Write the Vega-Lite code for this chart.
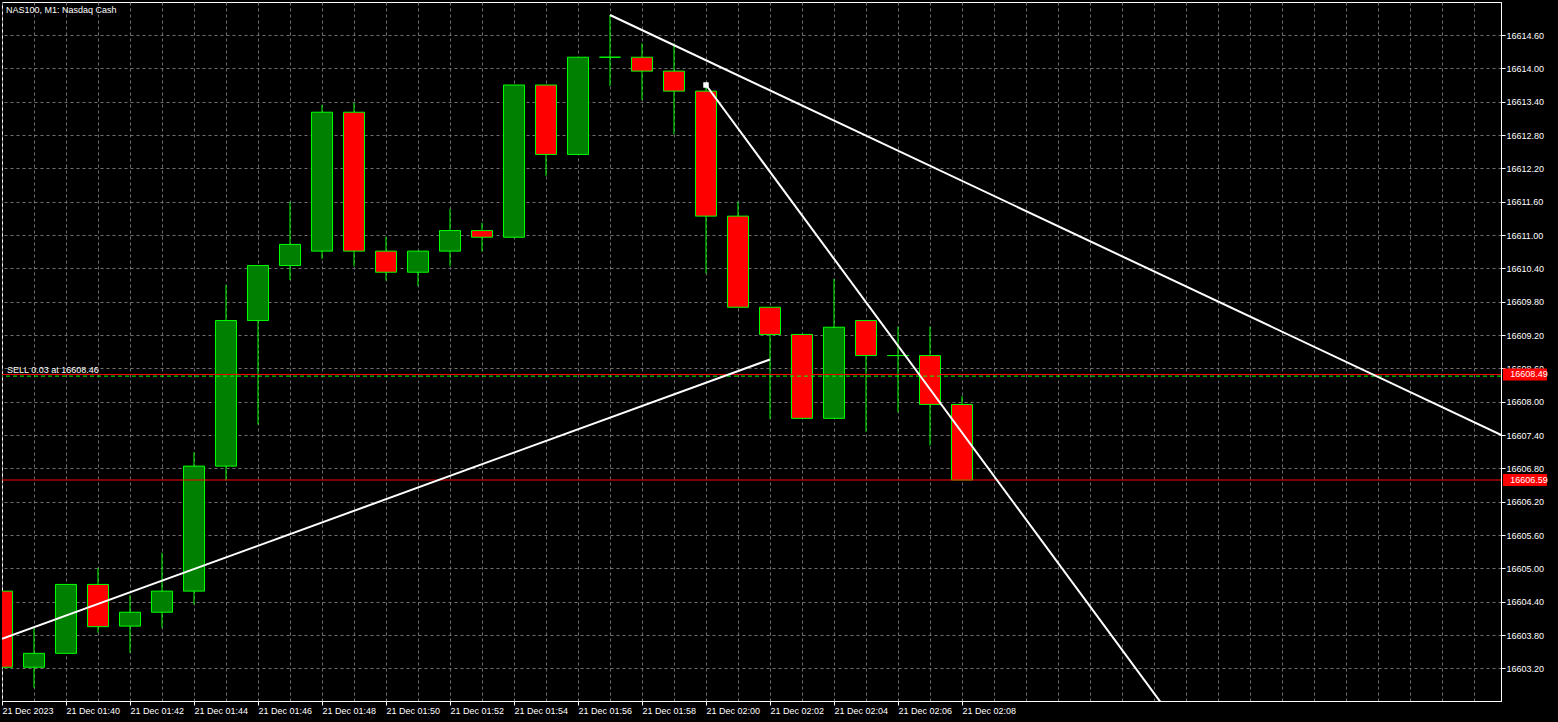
{
  "$schema": "https://vega.github.io/schema/vega-lite/v6.json",
  "width": 1499,
  "height": 699,
  "autosize": "none",
  "padding": {"left": 2, "top": 2, "right": 57, "bottom": 21},
  "background": "black",
  "config": {
    "view": {"stroke": "white", "strokeWidth": 1, "fill": "black"},
    "font": "Liberation Sans",
    "axis": {"labelFont": "Liberation Sans", "labelFontSize": 9, "labelColor": "white", "domainColor": "white", "tickColor": "white", "tickSize": 4, "gridColor": "#707070", "gridDash": [3, 3], "gridWidth": 1}
  },
  "title": {"text": "NAS100, M1:  Nasdaq Cash", "anchor": "start", "frame": "group", "orient": "top", "offset": -13, "dx": 4, "font": "Liberation Sans", "fontSize": 9, "fontWeight": "normal", "color": "white"},
  "datasets": {
    "candles": [
      {"t": "2023-12-21T01:38:00Z", "open": 16604.59, "high": 16604.59, "low": 16603.22, "close": 16603.22},
      {"t": "2023-12-21T01:39:00Z", "open": 16603.22, "high": 16603.95, "low": 16602.85, "close": 16603.47},
      {"t": "2023-12-21T01:40:00Z", "open": 16603.47, "high": 16604.71, "low": 16603.47, "close": 16604.71},
      {"t": "2023-12-21T01:41:00Z", "open": 16604.71, "high": 16605.01, "low": 16603.84, "close": 16603.95},
      {"t": "2023-12-21T01:42:00Z", "open": 16603.96, "high": 16604.52, "low": 16603.48, "close": 16604.21},
      {"t": "2023-12-21T01:43:00Z", "open": 16604.21, "high": 16605.28, "low": 16603.93, "close": 16604.59},
      {"t": "2023-12-21T01:44:00Z", "open": 16604.59, "high": 16607.09, "low": 16604.35, "close": 16606.84},
      {"t": "2023-12-21T01:45:00Z", "open": 16606.84, "high": 16610.10, "low": 16606.58, "close": 16609.46},
      {"t": "2023-12-21T01:46:00Z", "open": 16609.46, "high": 16610.45, "low": 16607.59, "close": 16610.45},
      {"t": "2023-12-21T01:47:00Z", "open": 16610.45, "high": 16611.60, "low": 16610.19, "close": 16610.83},
      {"t": "2023-12-21T01:48:00Z", "open": 16610.71, "high": 16613.34, "low": 16610.57, "close": 16613.21},
      {"t": "2023-12-21T01:49:00Z", "open": 16613.21, "high": 16613.38, "low": 16610.44, "close": 16610.71},
      {"t": "2023-12-21T01:50:00Z", "open": 16610.71, "high": 16610.97, "low": 16610.18, "close": 16610.33},
      {"t": "2023-12-21T01:51:00Z", "open": 16610.33, "high": 16610.71, "low": 16610.08, "close": 16610.71},
      {"t": "2023-12-21T01:52:00Z", "open": 16610.71, "high": 16611.47, "low": 16610.44, "close": 16611.08},
      {"t": "2023-12-21T01:53:00Z", "open": 16611.08, "high": 16611.22, "low": 16610.70, "close": 16610.96},
      {"t": "2023-12-21T01:54:00Z", "open": 16610.96, "high": 16613.70, "low": 16610.96, "close": 16613.70},
      {"t": "2023-12-21T01:55:00Z", "open": 16613.70, "high": 16613.70, "low": 16612.06, "close": 16612.45},
      {"t": "2023-12-21T01:56:00Z", "open": 16612.45, "high": 16614.20, "low": 16612.45, "close": 16614.20},
      {"t": "2023-12-21T01:57:00Z", "open": 16614.20, "high": 16614.96, "low": 16613.68, "close": 16614.20},
      {"t": "2023-12-21T01:58:00Z", "open": 16614.20, "high": 16614.45, "low": 16613.43, "close": 16613.95},
      {"t": "2023-12-21T01:59:00Z", "open": 16613.95, "high": 16614.45, "low": 16612.81, "close": 16613.59},
      {"t": "2023-12-21T02:00:00Z", "open": 16613.59, "high": 16613.70, "low": 16610.31, "close": 16611.34},
      {"t": "2023-12-21T02:01:00Z", "open": 16611.34, "high": 16611.60, "low": 16609.70, "close": 16609.70},
      {"t": "2023-12-21T02:02:00Z", "open": 16609.70, "high": 16609.70, "low": 16607.69, "close": 16609.21},
      {"t": "2023-12-21T02:03:00Z", "open": 16609.21, "high": 16609.21, "low": 16607.70, "close": 16607.70},
      {"t": "2023-12-21T02:04:00Z", "open": 16607.70, "high": 16610.21, "low": 16607.70, "close": 16609.34},
      {"t": "2023-12-21T02:05:00Z", "open": 16609.46, "high": 16609.46, "low": 16607.46, "close": 16608.83},
      {"t": "2023-12-21T02:06:00Z", "open": 16608.83, "high": 16609.35, "low": 16607.81, "close": 16608.83},
      {"t": "2023-12-21T02:07:00Z", "open": 16608.83, "high": 16609.35, "low": 16607.21, "close": 16607.95},
      {"t": "2023-12-21T02:08:00Z", "open": 16607.95, "high": 16608.10, "low": 16606.59, "close": 16606.59}
    ],
    "levels": [
      {"price": 16608.49, "kind": "price", "label": "16608.49"},
      {"price": 16606.59, "kind": "price", "label": "16606.59"},
      {"price": 16608.46, "kind": "entry", "label": "SELL 0.03 at 16608.46"}
    ],
    "trend": [
      {"id": "a", "t": "2023-12-21T01:38:00Z", "price": 16603.73},
      {"id": "a", "t": "2023-12-21T02:02:00Z", "price": 16608.76},
      {"id": "b", "t": "2023-12-21T01:57:00Z", "price": 16614.96},
      {"id": "b", "t": "2023-12-21T02:25:00Z", "price": 16607.36},
      {"id": "c", "t": "2023-12-21T02:00:00Z", "price": 16613.70},
      {"id": "c", "t": "2023-12-21T02:15:00Z", "price": 16601.97}
    ]
  },
  "layer": [
    {
      "data": {"name": "candles"},
      "mark": {"type": "rule", "color": "#00ff00", "strokeWidth": 1, "clip": true},
      "encoding": {
        "x": {"field": "t", "type": "temporal",
          "scale": {"type": "utc", "nice": false, "padding": 0, "domain": [{"year": 2023, "month": 12, "date": 21, "hours": 1, "minutes": 38, "utc": true}, {"year": 2023, "month": 12, "date": 21, "hours": 2, "minutes": 24, "seconds": 50, "milliseconds": 625, "utc": true}]},
          "axis": {"orient": "bottom", "title": null, "tickCount": 200,
            "values": [
              {"year": 2023, "month": 12, "date": 21, "hours": 1, "minutes": 38, "utc": true},
              {"year": 2023, "month": 12, "date": 21, "hours": 1, "minutes": 39, "utc": true},
              {"year": 2023, "month": 12, "date": 21, "hours": 1, "minutes": 40, "utc": true},
              {"year": 2023, "month": 12, "date": 21, "hours": 1, "minutes": 41, "utc": true},
              {"year": 2023, "month": 12, "date": 21, "hours": 1, "minutes": 42, "utc": true},
              {"year": 2023, "month": 12, "date": 21, "hours": 1, "minutes": 43, "utc": true},
              {"year": 2023, "month": 12, "date": 21, "hours": 1, "minutes": 44, "utc": true},
              {"year": 2023, "month": 12, "date": 21, "hours": 1, "minutes": 45, "utc": true},
              {"year": 2023, "month": 12, "date": 21, "hours": 1, "minutes": 46, "utc": true},
              {"year": 2023, "month": 12, "date": 21, "hours": 1, "minutes": 47, "utc": true},
              {"year": 2023, "month": 12, "date": 21, "hours": 1, "minutes": 48, "utc": true},
              {"year": 2023, "month": 12, "date": 21, "hours": 1, "minutes": 49, "utc": true},
              {"year": 2023, "month": 12, "date": 21, "hours": 1, "minutes": 50, "utc": true},
              {"year": 2023, "month": 12, "date": 21, "hours": 1, "minutes": 51, "utc": true},
              {"year": 2023, "month": 12, "date": 21, "hours": 1, "minutes": 52, "utc": true},
              {"year": 2023, "month": 12, "date": 21, "hours": 1, "minutes": 53, "utc": true},
              {"year": 2023, "month": 12, "date": 21, "hours": 1, "minutes": 54, "utc": true},
              {"year": 2023, "month": 12, "date": 21, "hours": 1, "minutes": 55, "utc": true},
              {"year": 2023, "month": 12, "date": 21, "hours": 1, "minutes": 56, "utc": true},
              {"year": 2023, "month": 12, "date": 21, "hours": 1, "minutes": 57, "utc": true},
              {"year": 2023, "month": 12, "date": 21, "hours": 1, "minutes": 58, "utc": true},
              {"year": 2023, "month": 12, "date": 21, "hours": 1, "minutes": 59, "utc": true},
              {"year": 2023, "month": 12, "date": 21, "hours": 2, "minutes": 0, "utc": true},
              {"year": 2023, "month": 12, "date": 21, "hours": 2, "minutes": 1, "utc": true},
              {"year": 2023, "month": 12, "date": 21, "hours": 2, "minutes": 2, "utc": true},
              {"year": 2023, "month": 12, "date": 21, "hours": 2, "minutes": 3, "utc": true},
              {"year": 2023, "month": 12, "date": 21, "hours": 2, "minutes": 4, "utc": true},
              {"year": 2023, "month": 12, "date": 21, "hours": 2, "minutes": 5, "utc": true},
              {"year": 2023, "month": 12, "date": 21, "hours": 2, "minutes": 6, "utc": true},
              {"year": 2023, "month": 12, "date": 21, "hours": 2, "minutes": 7, "utc": true},
              {"year": 2023, "month": 12, "date": 21, "hours": 2, "minutes": 8, "utc": true},
              {"year": 2023, "month": 12, "date": 21, "hours": 2, "minutes": 9, "utc": true},
              {"year": 2023, "month": 12, "date": 21, "hours": 2, "minutes": 10, "utc": true},
              {"year": 2023, "month": 12, "date": 21, "hours": 2, "minutes": 11, "utc": true},
              {"year": 2023, "month": 12, "date": 21, "hours": 2, "minutes": 12, "utc": true},
              {"year": 2023, "month": 12, "date": 21, "hours": 2, "minutes": 13, "utc": true},
              {"year": 2023, "month": 12, "date": 21, "hours": 2, "minutes": 14, "utc": true},
              {"year": 2023, "month": 12, "date": 21, "hours": 2, "minutes": 15, "utc": true},
              {"year": 2023, "month": 12, "date": 21, "hours": 2, "minutes": 16, "utc": true},
              {"year": 2023, "month": 12, "date": 21, "hours": 2, "minutes": 17, "utc": true},
              {"year": 2023, "month": 12, "date": 21, "hours": 2, "minutes": 18, "utc": true},
              {"year": 2023, "month": 12, "date": 21, "hours": 2, "minutes": 19, "utc": true},
              {"year": 2023, "month": 12, "date": 21, "hours": 2, "minutes": 20, "utc": true},
              {"year": 2023, "month": 12, "date": 21, "hours": 2, "minutes": 21, "utc": true},
              {"year": 2023, "month": 12, "date": 21, "hours": 2, "minutes": 22, "utc": true},
              {"year": 2023, "month": 12, "date": 21, "hours": 2, "minutes": 23, "utc": true},
              {"year": 2023, "month": 12, "date": 21, "hours": 2, "minutes": 24, "utc": true}
            ],
            "grid": true, "domain": true, "ticks": true, "tickSize": 4,
            "tickOpacity": {"condition": {"test": "utcFormat(datum.value, '%H%M') <= '0208' && (+utcFormat(datum.value, '%M')) % 2 == 0", "value": 1}, "value": 0},
            "labelAlign": "left", "labelBaseline": "top", "labelPadding": 1, "labelOverlap": false, "labelFlush": false, "labelBound": false,
            "labelExpr": "(utcFormat(datum.value, '%H%M') > '0208' || (+utcFormat(datum.value, '%M')) % 2 == 1) ? '' : (utcFormat(datum.value, '%H%M') == '0138' ? '21 Dec 2023' : utcFormat(datum.value, '%d %b %H:%M'))"}},
        "y": {"field": "low", "type": "quantitative",
          "scale": {"zero": false, "nice": false, "padding": 0, "domain": [16602.612, 16615.194]},
          "axis": {"orient": "right", "title": null, "tickCount": 100, "values": [16603.2, 16603.8, 16604.4, 16605.0, 16605.6, 16606.2, 16606.8, 16607.4, 16608.0, 16608.6, 16609.2, 16609.8, 16610.4, 16611.0, 16611.6, 16612.2, 16612.8, 16613.4, 16614.0, 16614.6],
            "format": ".2f", "grid": true, "domain": true, "ticks": true, "tickSize": 4, "labelAlign": "left", "labelBaseline": "middle", "labelPadding": 1, "labelOverlap": false, "labelBound": false}},
        "y2": {"field": "high"}
      }
    },
    {
      "data": {"name": "candles"},
      "mark": {"type": "bar", "width": 21, "stroke": "#00ff00", "strokeWidth": 1, "clip": true, "cornerRadius": 0},
      "encoding": {
        "x": {"field": "t", "type": "temporal", "title": null},
        "y": {"field": "open", "type": "quantitative", "title": null},
        "y2": {"field": "close"},
        "fill": {"condition": {"test": "datum.close > datum.open", "value": "#008000"}, "value": "#ff0000"}
      }
    },
    {
      "data": {"name": "levels"},
      "transform": [{"filter": "datum.kind == 'entry'"}],
      "mark": {"type": "rule", "color": "#00ff00", "strokeWidth": 1, "strokeDash": [4, 3]},
      "encoding": {"y": {"field": "price", "type": "quantitative", "title": null}}
    },
    {
      "data": {"name": "levels"},
      "transform": [{"filter": "datum.kind == 'price'"}],
      "mark": {"type": "rule", "color": "#ff0000", "strokeWidth": 1},
      "encoding": {"y": {"field": "price", "type": "quantitative", "title": null}}
    },
    {
      "data": {"name": "trend"},
      "mark": {"type": "line", "color": "white", "strokeWidth": 2, "clip": true},
      "encoding": {
        "x": {"field": "t", "type": "temporal", "title": null},
        "y": {"field": "price", "type": "quantitative", "title": null},
        "detail": {"field": "id"}
      }
    },
    {
      "data": {"name": "trend"},
      "transform": [{"filter": "datum.id == 'c' && datum.price > 16613"}],
      "mark": {"type": "point", "shape": "square", "filled": true, "color": "white", "size": 30, "opacity": 1},
      "encoding": {
        "x": {"field": "t", "type": "temporal", "title": null},
        "y": {"field": "price", "type": "quantitative", "title": null}
      }
    },
    {
      "data": {"name": "levels"},
      "transform": [{"filter": "datum.kind == 'entry'"}],
      "mark": {"type": "text", "color": "white", "font": "Liberation Sans", "fontSize": 9, "align": "left", "baseline": "alphabetic", "dx": 5, "dy": -3},
      "encoding": {
        "x": {"datum": {"year": 2023, "month": 12, "date": 21, "hours": 1, "minutes": 38, "utc": true}, "type": "temporal", "title": null},
        "y": {"field": "price", "type": "quantitative", "title": null},
        "text": {"field": "label"}
      }
    },
    {
      "data": {"name": "levels"},
      "transform": [{"filter": "datum.kind == 'price'"}],
      "mark": {"type": "point", "shape": "M-1,-0.273H1V0.273H-1Z", "filled": true, "color": "#ff0000", "size": 1936, "opacity": 1, "strokeWidth": 0, "clip": false},
      "encoding": {
        "x": {"datum": {"year": 2023, "month": 12, "date": 21, "hours": 2, "minutes": 25, "seconds": 35, "milliseconds": 600, "utc": true}, "type": "temporal", "title": null},
        "y": {"field": "price", "type": "quantitative", "title": null}
      }
    },
    {
      "data": {"name": "levels"},
      "transform": [{"filter": "datum.kind == 'price'"}],
      "mark": {"type": "text", "color": "white", "font": "Liberation Sans", "fontSize": 9, "align": "center", "baseline": "middle", "dx": 4, "clip": false},
      "encoding": {
        "x": {"datum": {"year": 2023, "month": 12, "date": 21, "hours": 2, "minutes": 25, "seconds": 35, "milliseconds": 600, "utc": true}, "type": "temporal", "title": null},
        "y": {"field": "price", "type": "quantitative", "title": null},
        "text": {"field": "label"}
      }
    }
  ]
}
